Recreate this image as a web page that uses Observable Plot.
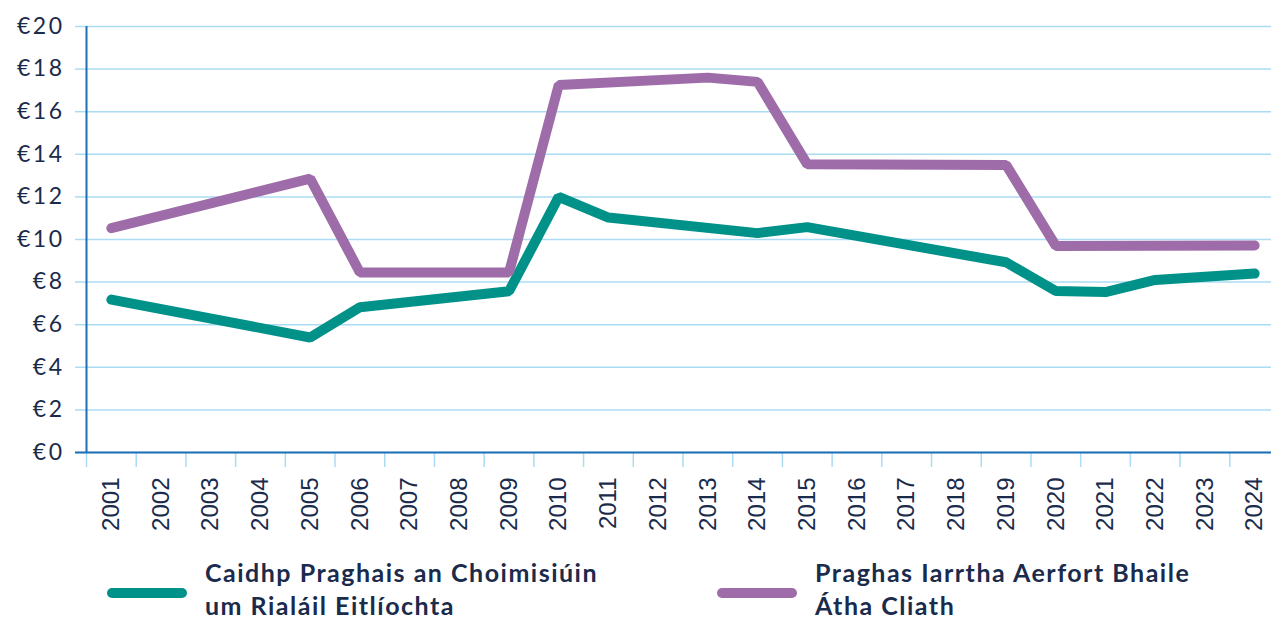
<!DOCTYPE html>
<html>
<head>
<meta charset="utf-8">
<script src="https://cdn.jsdelivr.net/npm/d3@7"></script>
<script src="https://cdn.jsdelivr.net/npm/@observablehq/plot@0.6"></script>
<style>
  html, body { margin: 0; padding: 0; background: #ffffff; overflow: hidden; }
  #chart { position: absolute; left: 0; top: 0; }
  #chart g[aria-label="y-axis tick label"] text { letter-spacing: 2.5px; }
  .lg-swatch { position: absolute; width: 80px; height: 10px; border-radius: 5px; }
  .lg-text { position: absolute; font-family: Lato, "Open Sans", sans-serif; font-weight: 700;
             font-size: 25px; line-height: 33px; letter-spacing: 1.5px; color: #1a2b4c; white-space: nowrap; }
</style>
</head>
<body>
<div id="chart"></div>
<div id="legend"></div>
<script>
// ---- data ----
const years = ["2001","2002","2003","2004","2005","2006","2007","2008","2009","2010","2011","2012",
               "2013","2014","2015","2016","2017","2018","2019","2020","2021","2022","2023","2024"];

const capYears  = ["2001","2005","2006","2009","2010","2011","2014","2015","2019","2020","2021","2022","2024"];
const capValues = [7.18, 5.4, 6.82, 7.57, 12.0, 11.03, 10.3, 10.58, 8.93, 7.58, 7.53, 8.1, 8.4];

const dubYears  = ["2001","2005","2006","2009","2010","2013","2014","2015","2019","2020","2024"];
const dubValues = [10.53, 12.86, 8.45, 8.45, 17.25, 17.6, 17.4, 13.53, 13.5, 9.7, 9.72];

const yTicks = [0, 2, 4, 6, 8, 10, 12, 14, 16, 18, 20];

const seriesNames = ["Caidhp Praghais an Choimisiúin\num Rialáil Eitlíochta",
                     "Praghas Iarrtha Aerfort Bhaile\nÁtha Cliath"];
const seriesColors = ["#009189", "#9e6ca9"];

// ---- build ----
const capData = capYears.map((y, i) => ({year: y, value: capValues[i]}));
const dubData = dubYears.map((y, i) => ({year: y, value: dubValues[i]}));

const W = 1280, H = 545, ML = 86, MR = 1, MT = 26, MB = 93;
const step = (W - ML - MR) / years.length;
const navy = "#1a2b4c", axisBlue = "#1f6fb6", gridBlue = "#aadcf4";

const chart = Plot.plot({
  width: W, height: H,
  marginLeft: ML, marginRight: MR, marginTop: MT, marginBottom: MB,
  style: {fontFamily: "Lato, sans-serif", fontSize: "22px", color: navy, background: "#ffffff",
          overflow: "visible", maxWidth: "none"},
  x: {type: "point", domain: years, padding: 0.5, round: false, label: null},
  y: {domain: [0, 20], label: null},
  marks: [
    Plot.gridY(yTicks, {stroke: gridBlue, strokeOpacity: 1, strokeWidth: 1.5}),
    Plot.axisY({ticks: yTicks, tickSize: 11, tickPadding: 11, stroke: gridBlue, strokeWidth: 1.5,
                fill: navy, fontSize: 23, tickFormat: d => "€" + d, label: null}),
    Plot.axisX({ticks: years, tickSize: 15, dx: -step / 2, stroke: gridBlue, strokeWidth: 1.5,
                tickFormat: () => "", label: null}),
    Plot.axisX({ticks: years, tickSize: 0, tickPadding: 25, tickRotate: -90, fill: navy,
                fontSize: 24, fontFamily: "Liberation Sans, Arial, sans-serif", label: null}),
    Plot.ruleY([0], {stroke: axisBlue, strokeWidth: 2, insetLeft: -11}),
    Plot.ruleX([years[0]], {stroke: axisBlue, strokeWidth: 2, dx: -step / 2}),
    Plot.lineY(capData, {x: "year", y: "value", stroke: seriesColors[0], strokeWidth: 10,
                         strokeLinecap: "round", strokeLinejoin: "miter"}),
    Plot.lineY(dubData, {x: "year", y: "value", stroke: seriesColors[1], strokeWidth: 10,
                         strokeLinecap: "round", strokeLinejoin: "miter"})
  ]
});
document.getElementById("chart").appendChild(chart);

// ---- legend ----
const legend = document.getElementById("legend");
const lgPos = [{sw: 107, tx: 205}, {sw: 717, tx: 815}];
seriesNames.forEach((name, i) => {
  const sw = document.createElement("div");
  sw.className = "lg-swatch";
  sw.style.left = lgPos[i].sw + "px";
  sw.style.top = "588px";
  sw.style.background = seriesColors[i];
  legend.appendChild(sw);
  const tx = document.createElement("div");
  tx.className = "lg-text";
  tx.style.left = lgPos[i].tx + "px";
  tx.style.top = "556px";
  tx.innerHTML = name.split("\n").join("<br>");
  legend.appendChild(tx);
});
</script>
</body>
</html>
